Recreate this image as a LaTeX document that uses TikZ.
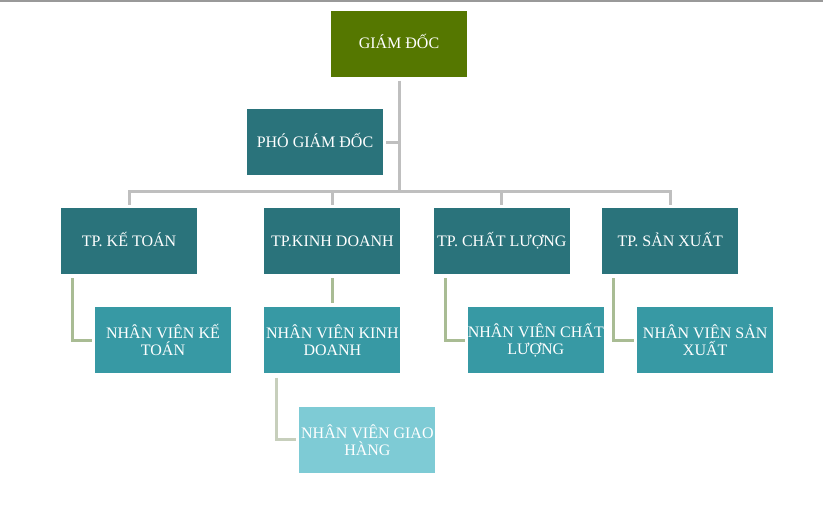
\documentclass[tikz,border=0pt]{standalone}
\usepackage{fontspec}
\setmainfont{Liberation Serif}
\usetikzlibrary{positioning}

\definecolor{gdgreen}{HTML}{557700}
\definecolor{tealdark}{HTML}{2A737B}
\definecolor{tealmid}{HTML}{3799A4}
\definecolor{teallight}{HTML}{7ECBD5}
\definecolor{busgray}{HTML}{BFBFBF}
\definecolor{subgreen}{HTML}{A9BC94}
\definecolor{subpale}{HTML}{C7CFBC}

\begin{document}
\begin{tikzpicture}[x=1pt, y=-1pt,
      every node/.style={font=\fontsize{16}{17}\selectfont, align=center, text=white, inner sep=0pt},
      box/.style={minimum width=136pt, minimum height=66pt},
      oneline/.style={text height=14.6pt, text depth=4pt},
      head/.style={box, oneline, fill=gdgreen},
      dept/.style={box, oneline, fill=tealdark},
      staff/.style={box, fill=tealmid},
      staffsub/.style={box, fill=teallight},
      bus/.style={draw=busgray, line width=3pt},
      link/.style={draw=subgreen, line width=3pt},
      linksub/.style={draw=subpale, line width=3pt},
  ]
    \useasboundingbox (0,0) rectangle (823,515);
    \draw[black!40, line width=2pt] (0,1) -- (823,1);

    \node[head] (gd)  at (399,43.5) {GIÁM ĐỐC};
    \node[dept] (pgd) at (315,142)  {PHÓ GIÁM ĐỐC};

    \node[dept] (kt) at (129,241) {TP. KẾ TOÁN};
    \node[dept, right=67pt of kt] (kd) {TP.KINH DOANH};
    \node[dept, right=33pt of kd] (cl) {TP. CHẤT LƯỢNG};
    \node[dept, right=32pt of cl] (sx) {TP. SẢN XUẤT};

    \node[staff, below=33pt of kt, xshift=34pt] (nvkt) {NHÂN VIÊN KẾ\\TOÁN};
    \node[staff, below=33pt of kd] (nvkd) {NHÂN VIÊN KINH\\DOANH};
    \node[staff, below=33pt of cl, xshift=34pt] (nvcl) {NHÂN VIÊN CHẤT\\LƯỢNG};
    \node[staff, below=33pt of sx, xshift=35pt] (nvsx) {NHÂN VIÊN SẢN\\XUẤT};
    \node[staffsub, below=33pt of nvkd, xshift=35pt] (nvgh) {NHÂN VIÊN GIAO\\HÀNG};

    \coordinate (busy) at (0,191.5);
    \draw[bus] ([yshift=-4pt]gd.south) -- (gd.south |- busy);
    \draw[bus] ([xshift=3pt]pgd.east) -- (pgd.east -| gd.south);
    \draw[bus] ([yshift=3pt]kt.north) -- (kt.north |- busy) -- (sx.north |- busy) -- ([yshift=3pt]sx.north);
    \foreach \n in {kd,cl}
      \draw[bus] ([yshift=3pt]\n.north) -- (\n.north |- busy);

    \foreach \a/\b in {kt/nvkt, cl/nvcl, sx/nvsx}
      \draw[link] ([xshift=11.5pt,yshift=-4pt]\a.south west) |- ([xshift=-3pt]\b.west);
    \draw[link] ([yshift=-4pt]kd.south) -- ([yshift=4pt]nvkd.north);
    \draw[linksub] ([xshift=12.5pt,yshift=-4pt]nvkd.south west) |- ([xshift=-3pt]nvgh.west);
  \end{tikzpicture}
\end{document}
